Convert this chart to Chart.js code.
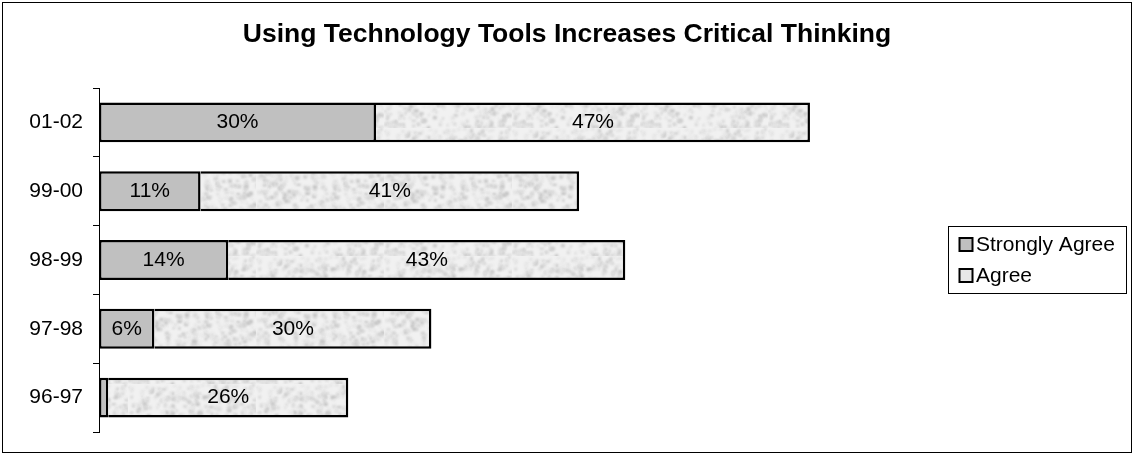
<!DOCTYPE html>
<html>
<head>
<meta charset="utf-8">
<script src="https://cdn.jsdelivr.net/npm/chart.js@4/dist/chart.umd.min.js"></script>
<style>
  body { margin: 0; background: #fff; }
  #wrap { width: 1134px; height: 455px; }
</style>
</head>
<body>
<div id="wrap"><canvas id="chart" width="1134" height="455"></canvas></div>
<script>
const years = ["01-02", "99-00", "98-99", "97-98", "96-97"];
const stronglyAgree = [30, 11, 14, 6, 1];
const agree = [47, 41, 43, 30, 26];
const seriesNames = ["Strongly Agree", "Agree"];
const chartTitle = "Using Technology Tools Increases Critical Thinking";

const FONT = "'Liberation Sans', Arial, sans-serif";

// soft speckled light grey fill for the "Agree" segments
function makeSpeckle() {
    const c = document.createElement("canvas");
    c.width = 128; c.height = 128;
    const g = c.getContext("2d");
    g.fillStyle = "#f1f1f1";
    g.fillRect(0, 0, 128, 128);
    let s = 4242;
    const rnd = () => { s = (s * 1103515245 + 12345) & 0x7fffffff; return s / 0x7fffffff; };
    g.filter = "blur(1.1px)";
    for (let i = 0; i < 900; i++) {
        const v = Math.round(195 + rnd() * 40);
        g.fillStyle = `rgb(${v},${v},${v})`;
        g.fillRect(rnd() * 128, rnd() * 128, 1.5 + rnd() * 3, 1.5 + rnd() * 2.5);
    }
    return g.createPattern(c, "repeat");
}

// white page, outer border and the centred title
const framePlugin = {
    id: "frame",
    beforeDraw(chart) {
        const ctx = chart.ctx;
        ctx.save();
        ctx.fillStyle = "#fff";
        ctx.fillRect(0, 0, chart.width, chart.height);
        ctx.strokeStyle = "#000";
        ctx.lineWidth = 1;
        ctx.strokeRect(2.5, 2.5, chart.width - 5, chart.height - 5);
        ctx.font = "bold 26.5px " + FONT;
        ctx.fillStyle = "#000";
        ctx.textAlign = "center";
        ctx.textBaseline = "alphabetic";
        ctx.fillText(chartTitle, chart.width / 2, 42);
        ctx.restore();
    }
};

const valueLabels = {
    id: "valueLabels",
    afterDatasetsDraw(chart) {
        const ctx = chart.ctx;
        ctx.save();
        ctx.font = "21px " + FONT;
        ctx.fillStyle = "#000";
        ctx.textAlign = "center";
        ctx.textBaseline = "middle";
        chart.data.datasets.forEach((ds, i) => {
            chart.getDatasetMeta(i).data.forEach((bar, j) => {
                if (Math.abs(bar.x - bar.base) < 25) return;
                ctx.fillText(ds.data[j] + "%", (bar.x + bar.base) / 2, bar.y);
            });
        });
        ctx.restore();
    }
};

const boxLegend = {
    id: "boxLegend",
    afterDraw(chart) {
        const ctx = chart.ctx;
        const swatches = ["#c0c0c0", "#e8e8e8"];
        ctx.save();
        ctx.strokeStyle = "#000";
        ctx.lineWidth = 1;
        ctx.strokeRect(948.5, 226.5, 178, 67);
        ctx.font = "21px " + FONT;
        ctx.textBaseline = "middle";
        ctx.textAlign = "left";
        seriesNames.forEach((name, i) => {
            const y = 244.5 + i * 31;
            ctx.fillStyle = swatches[i];
            ctx.fillRect(959.5, y - 6.5, 13, 13);
            ctx.lineWidth = 2;
            ctx.strokeRect(959.5, y - 6.5, 13, 13);
            ctx.fillStyle = "#000";
            ctx.fillText(name, 976, y + 1);
        });
        ctx.restore();
    }
};

const ctx = document.getElementById("chart").getContext("2d");
new Chart(ctx, {
    type: "bar",
    data: {
        labels: years,
        datasets: [
            {
                label: seriesNames[0],
                data: stronglyAgree,
                backgroundColor: "#c0c0c0",
                borderColor: "#000",
                borderWidth: 2.5,
                borderSkipped: false,
                barPercentage: 0.58,
                categoryPercentage: 1
            },
            {
                label: seriesNames[1],
                data: agree,
                backgroundColor: makeSpeckle(),
                borderColor: "#000",
                borderWidth: 2.5,
                borderSkipped: "start",
                barPercentage: 0.58,
                categoryPercentage: 1
            }
        ]
    },
    options: {
        indexAxis: "y",
        responsive: false,
        animation: false,
        layout: { padding: { top: 88, right: 204, bottom: 23, left: 0 } },
        plugins: {
            legend: { display: false },
            tooltip: { enabled: false },
            title: { display: false }
        },
        scales: {
            x: { stacked: true, display: false, min: 0, max: 90 },
            y: {
                stacked: true,
                afterFit(scale) { scale.width = 99; },
                grid: { drawOnChartArea: false, tickLength: 6, color: "#000", offset: true },
                border: { display: true, color: "#000", width: 1 },
                ticks: { color: "#000", padding: 10, font: { family: FONT, size: 21 } }
            }
        }
    },
    plugins: [framePlugin, valueLabels, boxLegend]
});
</script>
</body>
</html>
